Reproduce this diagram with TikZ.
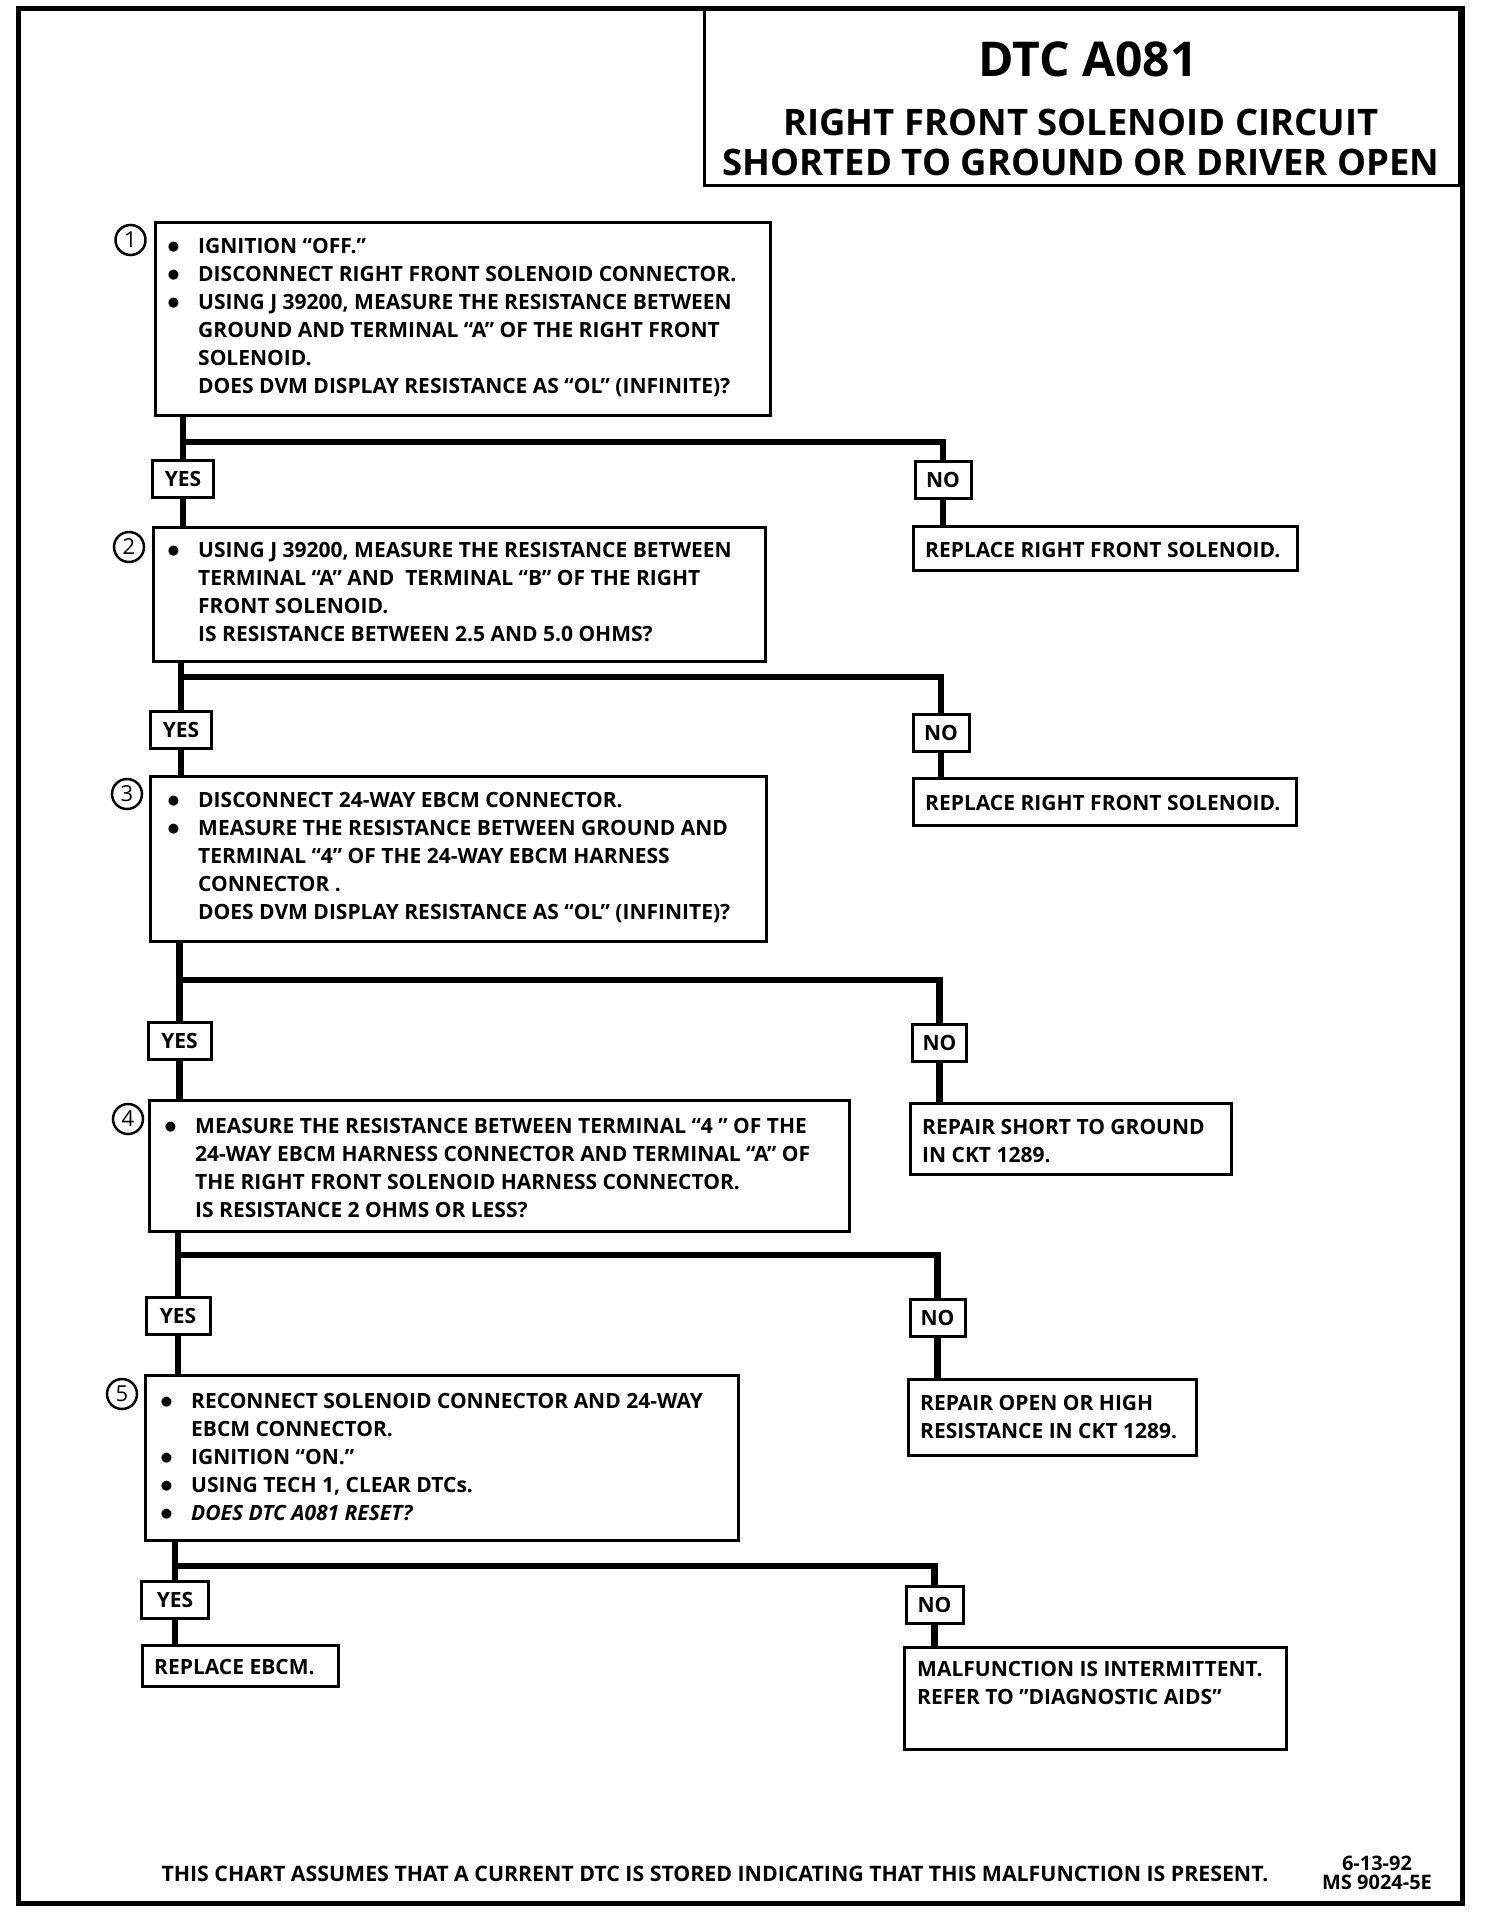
\documentclass[tikz,border=0pt]{standalone}
\usepackage{fontspec}
\setmainfont{Open Sans}
\newfontfamily\dotfont{DejaVu Sans}
\newcommand\bul{\llap{\raisebox{3pt}{\dotfont\fontsize{13}{13}\selectfont ●}\hspace{19pt}}}
\tikzset{
  stepbox/.style={draw, line width=3pt, inner sep=0pt},
  ansbox/.style={draw, line width=3pt, inner sep=0pt, minimum height=37pt,
    font=\fontsize{21}{21}\selectfont\bfseries},
  stepnum/.style={draw, circle, line width=2.5pt, minimum size=30pt, inner sep=0pt,
    font=\fontsize{22}{22}\selectfont},
  steptext/.style={anchor=north west, inner sep=0pt, align=left,
    font=\fontsize{21}{28}\selectfont\bfseries},
  flow/.style={line width=6.5pt},
}
\begin{document}
\begin{tikzpicture}[x=1pt, y=-1pt]
  \useasboundingbox (0,0) rectangle (1488,1916);
  \draw[line width=5pt] (18,9) rectangle (1462,1903);

  \node[stepbox, minimum width=755pt, minimum height=176pt] (title) at (1082,97) {};
  \node[font=\fontsize{48}{48}\selectfont\bfseries] (dtc) at (1088,59) {DTC A081};
  \node[font=\fontsize{36.5}{36.5}\selectfont\bfseries] (ttla) at (1081,122) {RIGHT FRONT SOLENOID CIRCUIT};
  \node[font=\fontsize{36.5}{36.5}\selectfont\bfseries] (ttlb) at (1081,162) {SHORTED TO GROUND OR DRIVER OPEN};

  \node[stepbox, minimum width=615pt, minimum height=193pt] (q1) at (462.5,318.5) {};
  \node[stepnum] (c1) at (130.5,240) {1};
  \node[steptext] (q1txt) at (198,238.5) {\bul IGNITION “OFF.”\\
    \bul DISCONNECT RIGHT FRONT SOLENOID CONNECTOR.\\
    \bul USING J 39200, MEASURE THE RESISTANCE BETWEEN\\
    GROUND AND TERMINAL “A” OF THE RIGHT FRONT\\
    SOLENOID.\\
    DOES DVM DISPLAY RESISTANCE AS “OL” (INFINITE)?};

  \node[stepbox, minimum width=612pt, minimum height=134pt] (q2) at (459,594) {};
  \node[stepnum] (c2) at (129,547) {2};
  \node[steptext] (q2txt) at (198,542.5) {\bul USING J 39200, MEASURE THE RESISTANCE BETWEEN\\
    TERMINAL “A” AND~ TERMINAL “B” OF THE RIGHT\\
    FRONT SOLENOID.\\
    IS RESISTANCE BETWEEN 2.5 AND 5.0 OHMS?};

  \node[stepbox, minimum width=616pt, minimum height=165pt] (q3) at (458,858.5) {};
  \node[stepnum] (c3) at (127,794) {3};
  \node[steptext] (q3txt) at (198,792.5) {\bul DISCONNECT 24-WAY EBCM CONNECTOR.\\
    \bul MEASURE THE RESISTANCE BETWEEN GROUND AND\\
    TERMINAL “4” OF THE 24-WAY EBCM HARNESS\\
    CONNECTOR .\\
    DOES DVM DISPLAY RESISTANCE AS “OL” (INFINITE)?};

  \node[stepbox, minimum width=700pt, minimum height=131pt] (q4) at (499,1165.5) {};
  \node[stepnum] (c4) at (128,1119) {4};
  \node[steptext] (q4txt) at (195,1118.5) {\bul MEASURE THE RESISTANCE BETWEEN TERMINAL “4 ” OF THE\\
    24-WAY EBCM HARNESS CONNECTOR AND TERMINAL “A” OF\\
    THE RIGHT FRONT SOLENOID HARNESS CONNECTOR.\\
    IS RESISTANCE 2 OHMS OR LESS?};

  \node[stepbox, minimum width=593pt, minimum height=165pt] (q5) at (441.5,1457.5) {};
  \node[stepnum] (c5) at (122,1394) {5};
  \node[steptext] (q5txt) at (191,1393) {\bul RECONNECT SOLENOID CONNECTOR AND 24-WAY\\
    EBCM CONNECTOR.\\
    \bul IGNITION “ON.”\\
    \bul USING TECH 1, CLEAR DTCs.\\
    \bul \itshape DOES DTC A081 RESET?};

  \node[ansbox, minimum width=61pt] (y1) at (183,478.5) {YES};
  \node[ansbox, minimum width=56pt] (n1) at (943,480) {NO};
  \node[ansbox, minimum width=61pt] (y2) at (181,730) {YES};
  \node[ansbox, minimum width=56pt] (n2) at (941,732.5) {NO};
  \node[ansbox, minimum width=63pt] (y3) at (179.5,1040.5) {YES};
  \node[ansbox, minimum width=54pt] (n3) at (939.5,1043) {NO};
  \node[ansbox, minimum width=64pt] (y4) at (178,1316) {YES};
  \node[ansbox, minimum width=55pt] (n4) at (937.5,1318) {NO};
  \node[ansbox, minimum width=67pt] (y5) at (175,1600) {YES};
  \node[ansbox, minimum width=57pt] (n5) at (934.5,1604.5) {NO};

  \node[stepbox, minimum width=384pt, minimum height=44pt] (r1) at (1105,548) {};
  \node[steptext] (r1txt) at (925,542.5) {REPLACE RIGHT FRONT SOLENOID.};
  \node[stepbox, minimum width=383pt, minimum height=47pt] (r2) at (1104.5,801.5) {};
  \node[steptext] (r2txt) at (925,795.5) {REPLACE RIGHT FRONT SOLENOID.};
  \node[stepbox, minimum width=321pt, minimum height=71pt] (r3) at (1070.5,1138.5) {};
  \node[steptext] (r3txt) at (922,1119.5) {REPAIR SHORT TO GROUND\\ IN CKT 1289.};
  \node[stepbox, minimum width=288pt, minimum height=76pt] (r4) at (1052,1417) {};
  \node[steptext] (r4txt) at (920,1395.5) {REPAIR OPEN OR HIGH\\ RESISTANCE IN CKT 1289.};
  \node[stepbox, minimum width=196pt, minimum height=41pt] (r5) at (240,1665.5) {};
  \node[steptext] (r5txt) at (154,1659.5) {REPLACE EBCM.};
  \node[stepbox, minimum width=382pt, minimum height=102pt] (r6) at (1095,1698) {};
  \node[steptext] (r6txt) at (917,1661.5) {MALFUNCTION IS INTERMITTENT.\\ REFER TO "DIAGNOSTIC AIDS"};

  \coordinate (b1) at (0,442);
  \coordinate (b2) at (0,677);
  \coordinate (b3) at (0,980);
  \coordinate (b4) at (0,1255);
  \coordinate (b5) at (0,1566);

  \draw[flow] (q1.south -| y1.north) -- (y1.north);
  \draw[flow] (b1 -| y1.north) -| (n1.north);
  \draw[flow] (y1.south) -- (q2.north -| y1.south);
  \draw[flow] (n1.south) -- (r1.north -| n1.south);

  \draw[flow] (q2.south -| y2.north) -- (y2.north);
  \draw[flow] (b2 -| y2.north) -| (n2.north);
  \draw[flow] (y2.south) -- (q3.north -| y2.south);
  \draw[flow] (n2.south) -- (r2.north -| n2.south);

  \draw[flow] (q3.south -| y3.north) -- (y3.north);
  \draw[flow] (b3 -| y3.north) -| (n3.north);
  \draw[flow] (y3.south) -- (q4.north -| y3.south);
  \draw[flow] (n3.south) -- (r3.north -| n3.south);

  \draw[flow] (q4.south -| y4.north) -- (y4.north);
  \draw[flow] (b4 -| y4.north) -| (n4.north);
  \draw[flow] (y4.south) -- (q5.north -| y4.south);
  \draw[flow] (n4.south) -- (r4.north -| n4.south);

  \draw[flow] (q5.south -| y5.north) -- (y5.north);
  \draw[flow] (b5 -| y5.north) -| (n5.north);
  \draw[flow] (y5.south) -- (r5.north -| y5.south);
  \draw[flow] (n5.south) -- (r6.north -| n5.south);

  \node[font=\fontsize{21.3}{21.3}\selectfont\bfseries] (note) at (715,1874)
    {THIS CHART ASSUMES THAT A CURRENT DTC IS STORED INDICATING THAT THIS MALFUNCTION IS PRESENT.};
  \node[font=\fontsize{20}{19}\selectfont\bfseries, align=center, inner sep=0pt] (code) at (1377,1873)
    {6-13-92\\ MS 9024-5E};
\end{tikzpicture}
\end{document}
